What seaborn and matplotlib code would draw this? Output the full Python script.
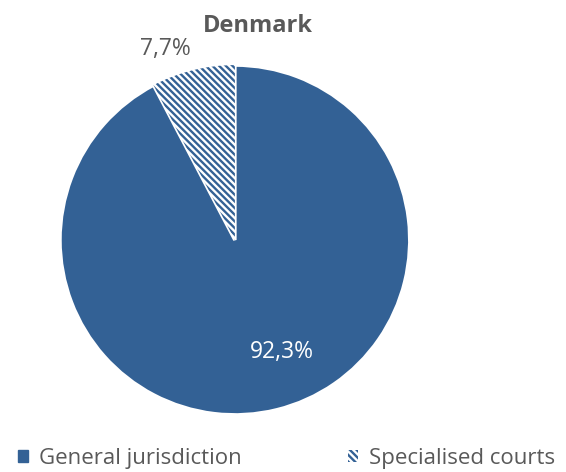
import matplotlib
matplotlib.use("Agg")
import matplotlib.pyplot as plt
import seaborn as sns
from matplotlib.patches import Patch

categories = ["General jurisdiction", "Specialised courts"]
values = [92.3, 7.7]
title = "Denmark"

sns.set_theme(style="white")
plt.rcParams['font.family'] = ['Open Sans', 'DejaVu Sans']
plt.rcParams['hatch.linewidth'] = 1.7

blue = "#336195"
gray = "#595959"
colors = sns.color_palette([blue, "white"])
hatch = "\\" * 5

fig = plt.figure(figsize=(5.66, 4.72), dpi=100)
ax = fig.add_axes([0.106, 0.1208, 0.618, 0.7415])

def fmt(p):
    return f"{p:.1f}".replace(".", ",") + "%"

wedges, texts, autotexts = ax.pie(
    values, colors=colors, startangle=90, counterclock=False,
    autopct=fmt, pctdistance=0.69,
    wedgeprops=dict(edgecolor="white", linewidth=2.5),
    textprops=dict(fontsize=16.5),
)
ax.set_aspect("equal")
ax.set_xlim(-1, 1)
ax.set_ylim(-1, 1)

# hatched slice
w = wedges[1]
w.set_facecolor("white")
w.set_edgecolor(blue)
w.set_linewidth(0)
w.set_hatch(hatch)

autotexts[0].set_color("white")
autotexts[0].set_position((0.27, -0.64))
autotexts[1].set_color(gray)
autotexts[1].set_position((-0.40, 1.09))
autotexts[1].set_clip_on(False)

fig.text(0.455, 0.945, title, ha="center", va="center", fontsize=17,
         fontweight="bold", color=gray)

handles = [Patch(facecolor=blue, edgecolor=blue),
           Patch(facecolor="white", edgecolor=blue, hatch=hatch, linewidth=0)]
leg = fig.legend(handles, categories, loc="lower center", ncol=2,
                 bbox_to_anchor=(0.506, -0.035), frameon=False, fontsize=16,
                 handlelength=0.45, handleheight=0.45, handletextpad=0.5,
                 columnspacing=4.8, labelcolor=gray)

fig.savefig("out.png", dpi=100)
